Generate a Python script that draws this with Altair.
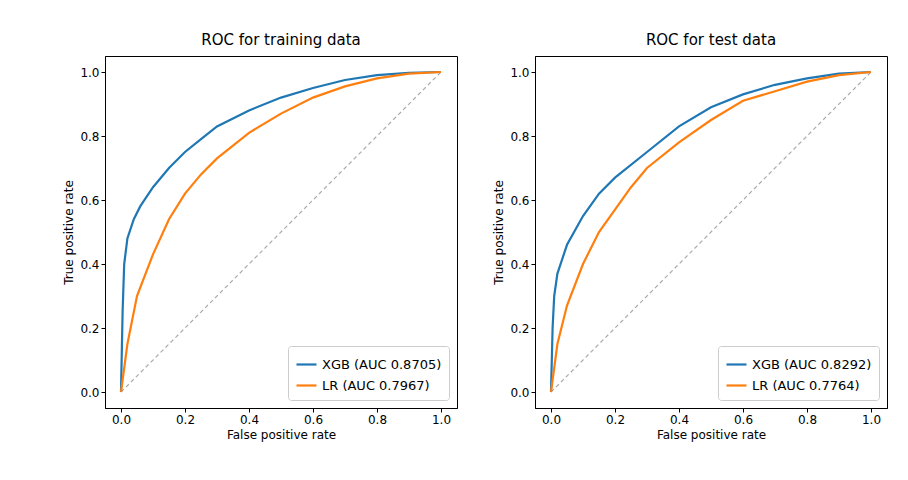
import altair as alt
import pandas as pd

tr_xgb_x = [0,0.005,0.01,0.02,0.04,0.06,0.1,0.15,0.2,0.25,0.3,0.4,0.5,0.6,0.7,0.8,0.9,1]
tr_xgb_y = [0,0.25,0.4,0.48,0.54,0.58,0.64,0.70,0.75,0.79,0.83,0.88,0.92,0.95,0.975,0.99,0.997,1]
tr_lr_x = [0,0.02,0.05,0.1,0.15,0.2,0.25,0.3,0.4,0.5,0.6,0.7,0.8,0.9,1]
tr_lr_y = [0,0.15,0.30,0.43,0.54,0.62,0.68,0.73,0.81,0.87,0.92,0.955,0.98,0.995,1]
te_xgb_x = [0,0.005,0.01,0.02,0.05,0.1,0.15,0.2,0.3,0.4,0.5,0.6,0.7,0.8,0.9,1]
te_xgb_y = [0,0.2,0.3,0.37,0.46,0.55,0.62,0.67,0.75,0.83,0.89,0.93,0.96,0.98,0.995,1]
te_lr_x = [0,0.02,0.05,0.1,0.15,0.2,0.25,0.3,0.4,0.5,0.6,0.7,0.8,0.9,1]
te_lr_y = [0,0.15,0.27,0.40,0.50,0.57,0.64,0.70,0.78,0.85,0.91,0.94,0.97,0.99,1]

FONT = "DejaVu Sans"

def panel(title, xgb_x, xgb_y, lr_x, lr_y, lx, ll):
    rows = []
    for i, (x, y) in enumerate(zip(xgb_x, xgb_y)):
        rows.append({"fpr": x, "tpr": y, "model": lx, "o": i})
    for i, (x, y) in enumerate(zip(lr_x, lr_y)):
        rows.append({"fpr": x, "tpr": y, "model": ll, "o": i})
    df = pd.DataFrame(rows)
    xs = alt.Scale(domain=[-0.05, 1.05], nice=False, zero=False)
    ys = alt.Scale(domain=[-0.05, 1.05], nice=False, zero=False)
    diag = alt.Chart(pd.DataFrame({"fpr": [0, 1], "tpr": [0, 1]})).mark_line(
        color="#aaaaaa", strokeDash=[4, 3], strokeWidth=1.2
    ).encode(x=alt.X("fpr:Q", scale=xs), y=alt.Y("tpr:Q", scale=ys))
    lines = alt.Chart(df).mark_line(strokeWidth=2.2).encode(
        x=alt.X("fpr:Q", scale=xs, title="False positive rate",
                axis=alt.Axis(values=[0, 0.2, 0.4, 0.6, 0.8, 1.0], format=".1f", grid=False)),
        y=alt.Y("tpr:Q", scale=ys, title="True positive rate",
                axis=alt.Axis(values=[0, 0.2, 0.4, 0.6, 0.8, 1.0], format=".1f", grid=False)),
        color=alt.Color("model:N", sort=[lx, ll],
                        scale=alt.Scale(domain=[lx, ll], range=["#1f77b4", "#ff7f0e"]),
                        legend=alt.Legend(title=None, orient="bottom-right", symbolType="stroke",
                                          symbolStrokeWidth=2.2, symbolSize=400, labelFontSize=13,
                                          labelFont=FONT, strokeColor="#cccccc", padding=7,
                                          fillColor="white", cornerRadius=3, offset=8)),
        order="o:Q",
    )
    return (diag + lines).properties(
        width=352, height=352,
        title=alt.Title(title, fontSize=15, fontWeight="normal", font=FONT, offset=8),
    )

left = panel("ROC for training data", tr_xgb_x, tr_xgb_y, tr_lr_x, tr_lr_y,
             "XGB (AUC 0.8705)", "LR (AUC 0.7967)")
right = panel("ROC for test data", te_xgb_x, te_xgb_y, te_lr_x, te_lr_y,
              "XGB (AUC 0.8292)", "LR (AUC 0.7764)")

chart = alt.hconcat(left, right, spacing=34).resolve_scale(color="independent").properties(
    padding={"left": 54, "top": 24, "right": 10, "bottom": 10}
).configure_axis(
    labelFont=FONT, titleFont=FONT, labelFontSize=12, titleFontSize=12,
    labelColor="black", titleColor="black", titleFontWeight="normal",
    domainColor="black", tickColor="black", tickSize=4,
).configure_view(stroke="black", strokeWidth=1)

chart.save("out.html", embed_options={"renderer": "svg", "actions": False})
